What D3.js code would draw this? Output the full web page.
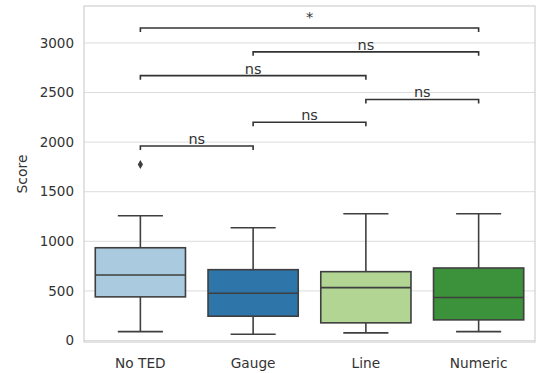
<!DOCTYPE html>
<html>
<head>
<meta charset="utf-8">
<script src="https://cdn.jsdelivr.net/npm/d3@7"></script>
<style>
  body { margin: 0; background: #fff; }
  text { font-family: "DejaVu Sans", sans-serif; fill: #333; }
</style>
</head>
<body>
<script>
const categories = ["No TED", "Gauge", "Line", "Numeric"]
const whiskerLow = [90, 63, 77, 90]
const q1 = [440, 245, 178, 208]
const median = [661, 476, 533, 433]
const q3 = [935, 714, 694, 731]
const whiskerHigh = [1257, 1137, 1278, 1278]
const outliers = [{cat: "No TED", v: 1774}]
const colors = ["#a9cadf", "#2e75a9", "#b3d594", "#3c923a"]

// significance brackets
const pairs = [
  {a: "No TED", b: "Gauge", y: 1960, label: "ns"},
  {a: "Gauge", b: "Line", y: 2200, label: "ns"},
  {a: "Line", b: "Numeric", y: 2430, label: "ns"},
  {a: "No TED", b: "Line", y: 2670, label: "ns"},
  {a: "Gauge", b: "Numeric", y: 2910, label: "ns"},
  {a: "No TED", b: "Numeric", y: 3150, label: "*"}
]
const yTicks = [0, 500, 1000, 1500, 2000, 2500, 3000]

const width = 537, height = 373
const margin = {top: 6, right: 2, bottom: 31, left: 84}

const svg = d3.select("body")
    .append("svg")
    .attr("width", width)
    .attr("height", height)

const x = d3.scaleBand()
    .domain(categories)
    .range([margin.left, width - margin.right])

const y = d3.scaleLinear()
    .domain([-15, 3372])
    .range([height - margin.bottom, margin.top])

// grid
svg.append("g").selectAll("line")
    .data(yTicks)
    .join("line")
    .attr("x1", margin.left).attr("x2", width - margin.right)
    .attr("y1", d => y(d)).attr("y2", d => y(d))
    .attr("stroke", "#dcdcdc").attr("stroke-width", 1)

// frame
svg.append("rect")
    .attr("x", margin.left).attr("y", margin.top)
    .attr("width", width - margin.right - margin.left)
    .attr("height", height - margin.bottom - margin.top)
    .attr("fill", "none").attr("stroke", "#d0d0d0").attr("stroke-width", 1.2)

// y tick labels
svg.append("g").selectAll("text")
    .data(yTicks)
    .join("text")
    .attr("x", margin.left - 10)
    .attr("y", d => y(d))
    .attr("dy", "0.35em")
    .attr("text-anchor", "end")
    .attr("font-size", 13.5)
    .text(d => d)

// x tick labels
svg.append("g").selectAll("text")
    .data(categories)
    .join("text")
    .attr("x", d => x(d) + x.bandwidth() / 2)
    .attr("y", height - margin.bottom + 21)
    .attr("dy", "0.35em")
    .attr("text-anchor", "middle")
    .attr("font-size", 13.7)
    .text(d => d)

svg.append("text")
    .attr("transform", `translate(22,${(margin.top + height - margin.bottom) / 2}) rotate(-90)`)
    .attr("text-anchor", "middle")
    .attr("dy", "0.35em")
    .attr("font-size", 14)
    .text("Score")

const stroke = "#3f3f3f"
const boxW = x.bandwidth() * 0.8
const capW = boxW / 2

const boxes = svg.append("g").selectAll("g")
    .data(categories)
    .join("g")
    .attr("transform", d => `translate(${x(d) + x.bandwidth() / 2},0)`)

boxes.append("line")
    .attr("y1", (d, i) => y(whiskerLow[i])).attr("y2", (d, i) => y(q1[i]))
    .attr("stroke", stroke).attr("stroke-width", 1.6)
boxes.append("line")
    .attr("y1", (d, i) => y(q3[i])).attr("y2", (d, i) => y(whiskerHigh[i]))
    .attr("stroke", stroke).attr("stroke-width", 1.6)
boxes.append("line")
    .attr("x1", -capW / 2).attr("x2", capW / 2)
    .attr("y1", (d, i) => y(whiskerLow[i])).attr("y2", (d, i) => y(whiskerLow[i]))
    .attr("stroke", stroke).attr("stroke-width", 1.6)
boxes.append("line")
    .attr("x1", -capW / 2).attr("x2", capW / 2)
    .attr("y1", (d, i) => y(whiskerHigh[i])).attr("y2", (d, i) => y(whiskerHigh[i]))
    .attr("stroke", stroke).attr("stroke-width", 1.6)
boxes.append("rect")
    .attr("x", -boxW / 2).attr("width", boxW)
    .attr("y", (d, i) => y(q3[i]))
    .attr("height", (d, i) => y(q1[i]) - y(q3[i]))
    .attr("fill", (d, i) => colors[i])
    .attr("stroke", stroke).attr("stroke-width", 1.6)
boxes.append("line")
    .attr("x1", -boxW / 2).attr("x2", boxW / 2)
    .attr("y1", (d, i) => y(median[i])).attr("y2", (d, i) => y(median[i]))
    .attr("stroke", stroke).attr("stroke-width", 1.6)

// outliers (diamonds)
svg.append("g").selectAll("path")
    .data(outliers)
    .join("path")
    .attr("transform", d => `translate(${x(d.cat) + x.bandwidth() / 2},${y(d.v)})`)
    .attr("d", "M0,-4.5L2.6,0L0,4.5L-2.6,0Z")
    .attr("fill", stroke)

// brackets
const cx = c => x(c) + x.bandwidth() / 2
const br = svg.append("g").selectAll("g")
    .data(pairs)
    .join("g")
br.append("path")
    .attr("d", d => `M${cx(d.a)},${y(d.y) + 4}V${y(d.y)}H${cx(d.b)}V${y(d.y) + 4}`)
    .attr("fill", "none").attr("stroke", "#333").attr("stroke-width", 1.6)
br.append("text")
    .attr("x", d => (cx(d.a) + cx(d.b)) / 2)
    .attr("y", d => y(d.y) - (d.label === "*" ? 6 : 2))
    .attr("text-anchor", "middle")
    .attr("font-size", 14.5)
    .text(d => d.label)
</script>
</body>
</html>
